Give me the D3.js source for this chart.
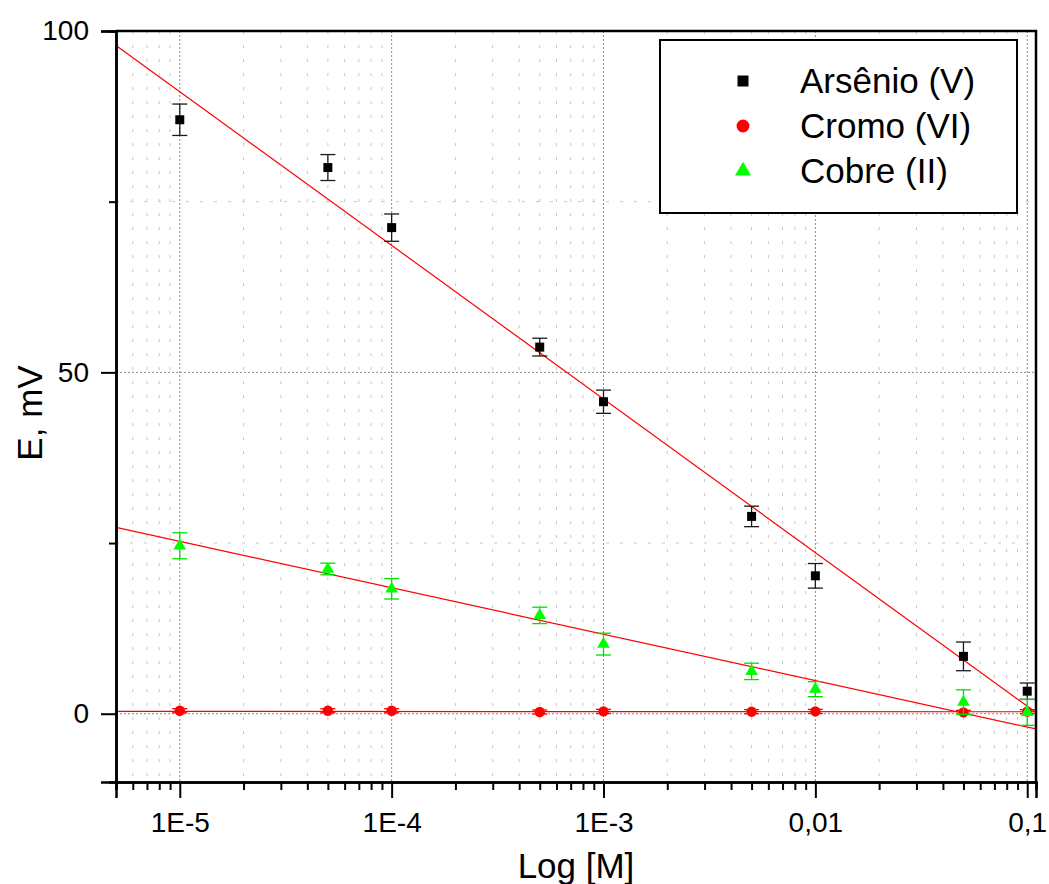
<!DOCTYPE html>
<html>
<head>
<meta charset="utf-8">
<script src="https://cdn.jsdelivr.net/npm/d3@7"></script>
<style>
  body { margin: 0; background: #fff; }
  text { font-family: Arial, "Liberation Sans", sans-serif; fill: #000; }
</style>
</head>
<body>
<div id="chart-area"></div>
<script>
// concentrations (mol/L) and measured potentials (mV)
const concentrations = [1e-5, 5e-5, 1e-4, 5e-4, 1e-3, 5e-3, 1e-2, 5e-2, 1e-1]
const arsenio = [87.0, 80.0, 71.2, 53.7, 45.7, 28.9, 20.2, 8.4, 3.3]
const arsenioErr = [2.3, 1.9, 2.0, 1.3, 1.7, 1.5, 1.8, 2.1, 1.2]
const cromo = [0.44, 0.44, 0.44, 0.25, 0.34, 0.30, 0.34, 0.20, 0.30]
const cromoErr = [0.3, 0.3, 0.3, 0.3, 0.3, 0.3, 0.3, 0.3, 0.3]
const cobre = [24.6, 21.2, 18.3, 14.4, 10.2, 6.2, 3.6, 1.7, 0.2]
const cobreErr = [1.9, 0.85, 1.5, 1.2, 1.6, 1.2, 1.1, 1.8, 1.9]

// linear fits E = a + b*log10(C)
const fitIntercepts = [-21.4, 0.28, -8.75]
const fitSlopes = [-22.5, -0.012, -6.8]

const seriesNames = ["Arsênio (V)", "Cromo (VI)", "Cobre (II)"]
const xTickValues = [1e-5, 1e-4, 1e-3, 1e-2, 1e-1]
const xTickLabels = ["1E-5", "1E-4", "1E-3", "0,01", "0,1"]
const yTickValues = [0, 50, 100]
const yMinorValues = [25, 75]

const MARGIN = { LEFT: 116, RIGHT: 13, TOP: 31, BOTTOM: 102 }
const WIDTH = 1049 - MARGIN.LEFT - MARGIN.RIGHT
const HEIGHT = 884 - MARGIN.TOP - MARGIN.BOTTOM

const svg = d3.select("#chart-area").append("svg")
  .attr("width", 1049)
  .attr("height", 884)

const g = svg.append("g")
  .attr("transform", `translate(${MARGIN.LEFT}, ${MARGIN.TOP})`)

// scales
const x = d3.scaleLog().domain([5e-6, 0.11]).range([0, WIDTH])
const y = d3.scaleLinear().domain([-10, 100]).range([HEIGHT, 0])

const xMinor = x.ticks().filter(v => !xTickValues.some(t => Math.abs(t - v) / t < 1e-6))

// grid
const grid = g.append("g")
grid.selectAll(".vminor").data(xMinor).enter().append("line")
  .attr("x1", d => x(d)).attr("x2", d => x(d))
  .attr("y1", 0).attr("y2", HEIGHT)
  .attr("stroke", "#c8c8c8").attr("stroke-width", 1).attr("stroke-dasharray", "3,11")
grid.selectAll(".hminor").data(yMinorValues).enter().append("line")
  .attr("x1", 0).attr("x2", WIDTH)
  .attr("y1", d => y(d)).attr("y2", d => y(d))
  .attr("stroke", "#c8c8c8").attr("stroke-width", 1).attr("stroke-dasharray", "3,11")
grid.selectAll(".vmajor").data(xTickValues).enter().append("line")
  .attr("x1", d => x(d)).attr("x2", d => x(d))
  .attr("y1", 0).attr("y2", HEIGHT)
  .attr("stroke", "#8a8a8a").attr("stroke-width", 1).attr("stroke-dasharray", "2,2")
grid.selectAll(".hmajor").data(yTickValues.filter(v => v < 100)).enter().append("line")
  .attr("x1", 0).attr("x2", WIDTH)
  .attr("y1", d => y(d)).attr("y2", d => y(d))
  .attr("stroke", "#8a8a8a").attr("stroke-width", 1).attr("stroke-dasharray", "2,2")

// fit lines, clipped to the plot area
svg.append("clipPath").attr("id", "plot-clip")
  .append("rect").attr("width", WIDTH).attr("height", HEIGHT)

const fitLine = d3.line()
  .x(d => x(d.c))
  .y(d => y(d.e))

fitIntercepts.forEach((a, i) => {
  const pts = x.domain().map(c => ({ c: c, e: a + fitSlopes[i] * Math.log10(c) }))
  g.append("path")
    .attr("clip-path", "url(#plot-clip)")
    .attr("fill", "none")
    .attr("stroke", "#ff0000")
    .attr("stroke-width", 1.2)
    .attr("d", fitLine(pts))
})

// series with error bars
const series = [
  { values: arsenio, err: arsenioErr, color: "#000", errColor: "#1a1a1a", symbol: d3.symbolSquare, size: 81 },
  { values: cromo, err: cromoErr, color: "#ff0000", errColor: "#ff0000", symbol: d3.symbolCircle, size: 85 },
  { values: cobre, err: cobreErr, color: "#00ff00", errColor: "#00e000", symbol: d3.symbolTriangle, size: 70 }
]

const CAP = 7.5
series.forEach(s => {
  const pts = concentrations.map((c, i) => ({ c: c, v: s.values[i], e: s.err[i] }))
  const eg = g.append("g").attr("stroke", s.errColor).attr("stroke-width", 1.3)
  eg.selectAll(".stem").data(pts).enter().append("line")
    .attr("x1", d => x(d.c)).attr("x2", d => x(d.c))
    .attr("y1", d => y(d.v + d.e)).attr("y2", d => y(d.v - d.e))
  eg.selectAll(".capTop").data(pts).enter().append("line")
    .attr("x1", d => x(d.c) - CAP).attr("x2", d => x(d.c) + CAP)
    .attr("y1", d => y(d.v + d.e)).attr("y2", d => y(d.v + d.e))
  eg.selectAll(".capBot").data(pts).enter().append("line")
    .attr("x1", d => x(d.c) - CAP).attr("x2", d => x(d.c) + CAP)
    .attr("y1", d => y(d.v - d.e)).attr("y2", d => y(d.v - d.e))
  g.append("g").selectAll("path").data(pts).enter().append("path")
    .attr("transform", d => `translate(${x(d.c)}, ${y(d.v)})`)
    .attr("d", d3.symbol().type(s.symbol).size(s.size))
    .attr("fill", s.color)
})

// axes
const xAxis = g.append("g")
  .attr("transform", `translate(0, ${HEIGHT})`)
  .call(d3.axisBottom(x).tickValues(xTickValues).tickSize(16).tickPadding(14)
    .tickFormat((d, i) => xTickLabels[i]))
const xAxisMinor = g.append("g")
  .attr("transform", `translate(0, ${HEIGHT})`)
  .call(d3.axisBottom(x).tickValues(xMinor).tickSize(8).tickFormat(""))
const yAxis = g.append("g")
  .call(d3.axisLeft(y).tickValues(yTickValues).tickSize(15).tickPadding(12))
const yAxisMinor = g.append("g")
  .call(d3.axisLeft(y).tickValues(yMinorValues).tickSize(7).tickFormat(""))

;[xAxis, xAxisMinor, yAxis, yAxisMinor].forEach(a => {
  a.select(".domain").attr("stroke", "#000").attr("stroke-width", 2.5)
  a.selectAll(".tick line").attr("stroke", "#000").attr("stroke-width", 2)
  a.selectAll(".tick text").attr("font-size", 28).attr("fill", "#000")
})

// top and right frame
g.append("path")
  .attr("fill", "none")
  .attr("stroke", "#000")
  .attr("stroke-width", 2.5)
  .attr("d", `M0,0H${WIDTH}V${HEIGHT}`)

// axis titles
svg.append("text")
  .attr("x", MARGIN.LEFT + WIDTH / 2)
  .attr("y", 878)
  .attr("text-anchor", "middle")
  .attr("font-size", 35)
  .text("Log [M]")

svg.append("text")
  .attr("transform", `translate(42, 413) rotate(-90)`)
  .attr("text-anchor", "middle")
  .attr("font-size", 35)
  .text("E, mV")

// legend
const legend = svg.append("g").attr("transform", "translate(660, 40)")
legend.append("rect")
  .attr("width", 357).attr("height", 173)
  .attr("fill", "#fff").attr("stroke", "#000").attr("stroke-width", 2)
const legendSizes = [121, 130, 110]
seriesNames.forEach((name, i) => {
  const row = legend.append("g").attr("transform", `translate(0, ${41 + i * 45})`)
  row.append("path")
    .attr("transform", "translate(83, 0)")
    .attr("d", d3.symbol().type(series[i].symbol).size(legendSizes[i]))
    .attr("fill", series[i].color)
  row.append("text")
    .attr("x", 140)
    .attr("y", 12)
    .attr("font-size", 35)
    .text(name)
})
</script>
</body>
</html>
